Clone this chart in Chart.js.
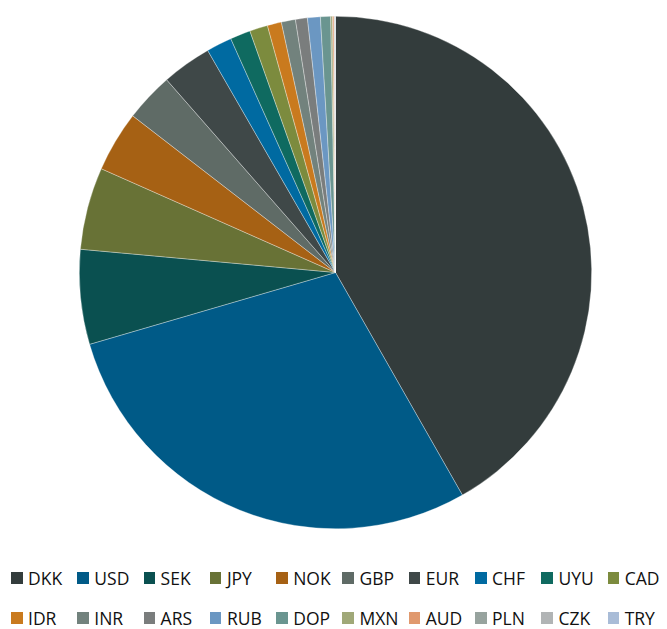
<!DOCTYPE html>
<html>
<head>
<meta charset="utf-8">
<script src="https://cdn.jsdelivr.net/npm/chart.js@4.4.1/dist/chart.umd.min.js"></script>
<style>
  html, body { margin: 0; padding: 0; background: #fff; }
  body { width: 667px; height: 629px; position: relative; overflow: hidden; font-family: 'Open Sans', sans-serif; }
  .pie-wrap { position: absolute; left: 0; top: 0; width: 667px; height: 545px; }
  .legend { position: absolute; left: 11px; top: 566px; display: grid; grid-template-columns: repeat(10, 66.3px); row-gap: 16px; }
  .legend-item { display: flex; align-items: center; height: 24px; font-size: 17.5px; color: #111; white-space: nowrap; }
  .legend-box { width: 11.5px; height: 11.5px; margin-right: 5.5px; flex: none; }
</style>
</head>
<body>
<div class="pie-wrap"><canvas id="pie"></canvas></div>
<div class="legend" id="legend"></div>
<script>
// currency split, percent of total
const currencies = ['DKK', 'USD', 'SEK', 'JPY', 'NOK', 'GBP', 'EUR', 'CHF', 'UYU', 'CAD',
                    'IDR', 'INR', 'ARS', 'RUB', 'DOP', 'MXN', 'AUD', 'PLN', 'CZK', 'TRY'];
const shares = [41.75, 28.72, 5.97, 5.19, 3.83, 3.08, 3.14, 1.61, 1.28, 1.14,
                0.89, 0.89, 0.75, 0.81, 0.64, 0.12, 0.09, 0.04, 0.03, 0.02];
const colors = ['#333c3c', '#005a87', '#0a5050', '#687236', '#a66114', '#5f6b66', '#3f4848', '#006aa1', '#0f6a60', '#7c8b3e',
                '#c97a1e', '#72827d', '#7a7d7d', '#6b97c2', '#6a9590', '#a0a878', '#e0996e', '#97a39e', '#b1b4b5', '#a9bcd7'];

new Chart(document.getElementById('pie'), {
  type: 'pie',
  data: {
    labels: currencies,
    datasets: [{
      data: shares,
      backgroundColor: colors,
      borderColor: 'rgba(255,255,255,0.55)',
      borderWidth: 0.6,
    }],
  },
  options: {
    responsive: true,
    maintainAspectRatio: false,
    animation: false,
    layout: { padding: { top: 16, bottom: 16, left: 4, right: 0 } },
    plugins: { legend: { display: false }, tooltip: { enabled: false } },
  },
});

// legend in the same 10-column grid as the original
const legendEl = document.getElementById('legend');
legendEl.innerHTML = currencies.map((c, i) =>
  `<div class="legend-item"><span class="legend-box" style="background:${colors[i]}"></span>${c}</div>`
).join('');
</script>
</body>
</html>
